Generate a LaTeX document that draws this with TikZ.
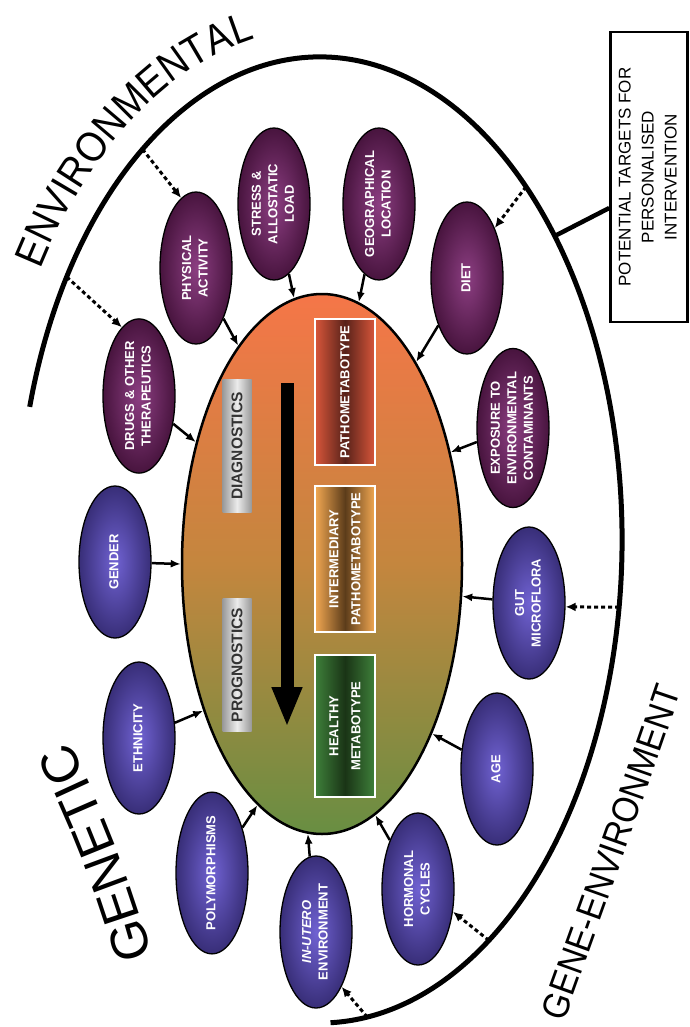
\documentclass[tikz,border=0pt]{standalone}
\usepackage{fontspec}
\setmainfont{Liberation Sans}
\newfontfamily\narrowsans[FakeStretch=0.9]{Liberation Sans}
\usepackage{graphicx}
\usetikzlibrary{arrows.meta}
\usetikzlibrary{shapes.geometric}
\usetikzlibrary{decorations.text}

\definecolor{envdark}{RGB}{72,20,62}
\definecolor{envlight}{RGB}{140,62,130}
\definecolor{gendark}{RGB}{56,46,120}
\definecolor{genlight}{RGB}{112,98,210}
\definecolor{coretop}{RGB}{245,118,72}
\definecolor{coremid}{RGB}{196,134,62}
\definecolor{corebot}{RGB}{104,142,66}
\definecolor{pathoedge}{RGB}{216,86,58}
\definecolor{pathomid}{RGB}{88,34,26}
\definecolor{interedge}{RGB}{242,168,82}
\definecolor{intermid}{RGB}{92,60,26}
\definecolor{healthyedge}{RGB}{62,128,58}
\definecolor{healthymid}{RGB}{26,52,22}

\newcommand{\vtext}[1]{\rotatebox{90}{\begin{tabular}{@{}c@{}}#1\end{tabular}}}
\newcommand{\envfont}{\narrowsans\fontsize{42}{45}\selectfont}
\newcommand{\geneenvfont}{\narrowsans\fontsize{37}{40}\selectfont}
\newcommand{\genfont}{\fontsize{52}{56}\selectfont}

\tikzset{>=latex}
\tikzstyle{sat} = [ellipse, draw=black, line width=1.3pt, minimum width=72pt, minimum height=152pt, inner sep=0pt, text=white, font=\bfseries\fontsize{13}{16.5}\selectfont]
\tikzstyle{envsat} = [sat, inner color=envlight, outer color=envdark]
\tikzstyle{gensat} = [sat, inner color=genlight, outer color=gendark]
\tikzstyle{core} = [ellipse, draw=black, line width=2.5pt, minimum width=280pt, minimum height=540pt, inner sep=0pt, top color=coretop, bottom color=corebot, middle color=coremid]
\tikzstyle{gauge} = [rectangle, minimum width=29pt, minimum height=133pt, inner sep=0pt, left color=gray!80, right color=gray!80, middle color=gray!15, text=black!80, font=\bfseries\fontsize{15.5}{18}\selectfont]
\tikzstyle{stage} = [rectangle, draw=white, line width=2.2pt, minimum width=60pt, minimum height=146pt, inner sep=0pt, text=white, font=\bfseries\fontsize{13}{22}\selectfont]
\tikzstyle{target} = [rectangle, draw=black, line width=2.5pt, fill=white, minimum width=77pt, minimum height=290pt, inner sep=0pt, font=\fontsize{17}{23}\selectfont]
\tikzstyle{sarrow} = [-{Latex[length=10pt,width=8pt]}, line width=2.5pt]
\tikzstyle{darrow} = [-{Latex[length=10pt,width=9pt]}, line width=3pt, dash pattern=on 4pt off 3pt]
\tikzstyle{flow} = [-{Triangle[length=40pt,width=28pt]}, line width=13pt]
\tikzstyle{rim} = [line width=5pt]

\begin{document}
\begin{tikzpicture}[x=1pt, y=-1pt]
\path[use as bounding box, fill=white] (0,0) rectangle (690,1027);
\coordinate (ctr) at (320,540);

% outer rim and its points
\path (ctr) ++(164:302pt and 483pt) coordinate (rimstart);
\draw[rim] (rimstart) arc[start angle=164, end angle=-88, x radius=302pt, y radius=483pt];
\path (ctr) ++(147:302pt and 483pt) coordinate (rDrugs);
\path (ctr) ++(126:302pt and 483pt) coordinate (rPhysical);
\path (ctr) ++(47:302pt and 483pt) coordinate (rDiet);
\path (ctr) ++(39:302pt and 483pt) coordinate (rTarget);
\path (ctr) ++(-8:302pt and 483pt) coordinate (rGut);
\path (ctr) ++(-56:302pt and 483pt) coordinate (rHormonal);
\path (ctr) ++(-81:302pt and 483pt) coordinate (rInutero);

% metabotype ellipse
\node[core] (core) at (322,564) {};
\node[gauge] (diag) at (237,446) {\rotatebox{90}{DIAGNOSTICS}};
\node[gauge] (prog) at (237,665) {\rotatebox{90}{PROGNOSTICS}};
\coordinate (flowtop) at (287,383);
\coordinate (flowtip) at (287,727);
\draw[flow] (flowtop) -- (flowtip);
\node[stage, left color=pathoedge, right color=pathoedge, middle color=pathomid] (patho) at (345,392) {\vtext{PATHOMETABOTYPE}};
\node[stage, left color=interedge, right color=interedge, middle color=intermid] (inter) at (345,559) {\vtext{INTERMEDIARY\\PATHOMETABOTYPE}};
\node[stage, minimum height=142pt, left color=healthyedge, right color=healthyedge, middle color=healthymid] (healthy) at (345,726) {\vtext{HEALTHY\\METABOTYPE}};

% factors
\node[envsat] (drugs) at (139,396) {\vtext{DRUGS \& OTHER\\THERAPEUTICS}};
\node[envsat] (physical) at (196,268) {\vtext{PHYSICAL\\ACTIVITY}};
\node[envsat] (stress) at (274,204) {\vtext{STRESS \&\\ALLOSTATIC\\LOAD}};
\node[envsat] (geo) at (379,204) {\vtext{GEOGRAPHICAL\\LOCATION}};
\node[envsat] (diet) at (467,278) {\vtext{DIET}};
\node[envsat] (exposure) at (513,428) {\vtext{EXPOSURE TO\\ENVIRONMENTAL\\CONTAMINANTS}};
\node[gensat] (gender) at (115,562) {\vtext{GENDER}};
\node[gensat] (gut) at (529,603) {\vtext{GUT\\MICROFLORA}};
\node[gensat] (ethnicity) at (139,738) {\vtext{ETHNICITY}};
\node[gensat] (poly) at (212,873) {\vtext{POLYMORPHISMS}};
\node[gensat] (inutero) at (316,932) {\vtext{\textit{IN-UTERO}\\ENVIRONMENT}};
\node[gensat] (hormonal) at (418,889) {\vtext{HORMONAL\\CYCLES}};
\node[gensat] (age) at (497,769) {\vtext{AGE}};

\draw[sarrow] (drugs) -- (core.136);
\draw[sarrow] (physical) -- (core.111);
\draw[sarrow] (stress) -- (core.96);
\draw[sarrow] (geo) -- (core.82);
\draw[sarrow] (diet) -- (core.65);
\draw[sarrow] (exposure) -- (core.41);
\draw[sarrow] (gender) -- (core.180);
\draw[sarrow] (gut) -- (core.347);
\draw[sarrow] (ethnicity) -- (core.231);
\draw[sarrow] (poly) -- (core.255);
\draw[sarrow] (inutero) -- (core.267);
\draw[sarrow] (hormonal) -- (core.282);
\draw[sarrow] (age) -- (core.303);

% modifiable factors
\draw[darrow] (rDrugs) -- (drugs.104);
\draw[darrow] (rPhysical) -- (physical.102);
\draw[darrow] (rDiet) -- (diet.61);
\draw[darrow] (rGut) -- (gut.354);
\draw[darrow] (rHormonal) -- (hormonal.327);
\draw[darrow] (rInutero) -- (inutero.295);

\node[target] (targets) at (649,177) {\vtext{POTENTIAL TARGETS FOR\\PERSONALISED\\INTERVENTION}};
\draw[line width=4.5pt] (rTarget) -- ([yshift=-31pt]targets.west);

% group names
\path (ctr) ++(148:330pt and 511pt) coordinate (envstart);
\path[decorate, decoration={text along path, text align=left, text={|\envfont|ENVIRONMENTAL}}] (envstart) arc[start angle=148, end angle=85, x radius=330pt, y radius=511pt];
\coordinate (gestart) at (564,1022);
\coordinate (geend) at (690,665);
\path[decorate, decoration={text along path, text align=left, text={|\geneenvfont|GENE-ENVIRONMENT}}] (gestart) .. controls (606,905) and (648,790) .. (geend);
\coordinate (genstart) at (152,956);
\coordinate (genend) at (55,716);
\path[decorate, decoration={text along path, text align=left, text={|\genfont|GENETIC}}] (genstart) .. controls (135,890) and (97,790) .. (genend);
\end{tikzpicture}
\end{document}
